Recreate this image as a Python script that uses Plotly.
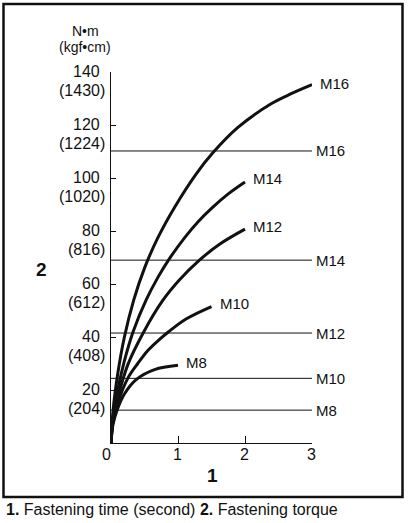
import plotly.graph_objects as go

# bolt curves: fastening time (s) vs torque (N·m)
m8_t = [0, 0.03, 0.1, 0.2, 0.38, 0.65, 1.0]
m8_n = [0, 7, 13, 18.5, 24, 27.7, 29.3]

m10_t = [0, 0.03, 0.1, 0.25, 0.4, 0.55, 0.72, 0.86, 1.12, 1.5]
m10_n = [0, 8, 15, 24.4, 30, 34.9, 39, 42, 46.8, 51.5]

m12_t = [0, 0.03, 0.1, 0.25, 0.49, 0.77, 1.02, 1.32, 1.62, 2.0]
m12_n = [0, 9, 17, 29.5, 42, 53.7, 61.5, 69, 75, 80.7]

m14_t = [0, 0.03, 0.1, 0.2, 0.33, 0.525, 0.7, 0.87, 1.1, 1.3, 1.52, 1.75, 2.0]
m14_n = [0, 10, 20, 31, 42, 54, 62.5, 69.5, 77.5, 83.5, 89, 94, 98.5]

m16_t = [0, 0.03, 0.1, 0.2, 0.34, 0.5, 0.7, 0.95, 1.27, 1.52, 1.89, 2.39, 2.69, 3.0]
m16_n = [0, 12, 26, 40, 54, 66, 77.5, 89, 101.5, 109.5, 119, 128, 131.8, 135.2]

curve_names = ["M8", "M10", "M12", "M14", "M16"]
curve_t = [m8_t, m10_t, m12_t, m14_t, m16_t]
curve_n = [m8_n, m10_n, m12_n, m14_n, m16_n]

# reference torque lines
ref_names = ["M16", "M14", "M12", "M10", "M8"]
ref_values = [110.2, 69, 41.5, 24.4, 12.4]

y_ticks = [20, 40, 60, 80, 100, 120, 140]
y_kgf = ["(204)", "(408)", "(612)", "(816)", "(1020)", "(1224)", "(1430)"]
x_ticks = [0, 1, 2, 3]

FONT = "Liberation Sans, Arial, sans-serif"

# plot area in pixels
L, T, W, H = 111, 72, 201, 371


def px(x):
    return (x - L) / W


def py(y):
    return (T + H - y) / H


fig = go.Figure()

for t, n in zip(curve_t, curve_n):
    fig.add_trace(go.Scatter(
        x=t, y=n, mode="lines",
        line=dict(color="#111111", width=3, shape="spline", smoothing=1),
        hoverinfo="skip", showlegend=False,
    ))

for v in ref_values:
    fig.add_trace(go.Scatter(
        x=[0, 3], y=[v, v], mode="lines",
        line=dict(color="#111111", width=1),
        hoverinfo="skip", showlegend=False,
    ))

ann = []
# labels at curve ends
for name, t, n in zip(curve_names, curve_t, curve_n):
    ann.append(dict(x=t[-1], y=n[-1], text=name, xanchor="left", yanchor="middle",
                    xshift=6, yshift=1 if name == "M16" else 3,
                    showarrow=False, font=dict(size=15)))
# labels of reference lines
for name, v in zip(ref_names, ref_values):
    ann.append(dict(x=3, y=v, text=name, xanchor="left", yanchor="middle",
                    xshift=2, showarrow=False, font=dict(size=15)))
# y tick labels (two lines)
for v, k in zip(y_ticks, y_kgf):
    ann.append(dict(x=0, y=v, text=str(v), xanchor="right", yanchor="middle",
                    xshift=-9, yshift=1, showarrow=False, font=dict(size=16)))
    ann.append(dict(x=0, y=v, text=k, xanchor="right", yanchor="middle",
                    xshift=-4, yshift=-18, showarrow=False, font=dict(size=16)))
# x tick labels
for v in x_ticks:
    ann.append(dict(x=v, y=0, text=str(v), xanchor="center", yanchor="middle",
                    xshift=-5 if v == 0 else -1, yshift=-11,
                    showarrow=False, font=dict(size=16)))

ann += [
    dict(xref="paper", yref="paper", x=px(85), y=py(31), text="N•m",
         xanchor="center", yanchor="middle", showarrow=False, font=dict(size=14)),
    dict(xref="paper", yref="paper", x=px(85), y=py(47), text="(kgf•cm)",
         xanchor="center", yanchor="middle", showarrow=False, font=dict(size=14)),
    dict(xref="paper", yref="paper", x=px(41), y=py(269), text="<b>2</b>",
         xanchor="center", yanchor="middle", showarrow=False, font=dict(size=19)),
    dict(xref="paper", yref="paper", x=px(212), y=py(476), text="<b>1</b>",
         xanchor="center", yanchor="middle", showarrow=False, font=dict(size=19)),
    dict(xref="paper", yref="paper", x=px(4), y=py(509), xanchor="left",
         yanchor="middle",
         text="<b>1.</b> Fastening time (second) <b>2.</b> Fastening torque",
         showarrow=False, font=dict(size=16)),
]

fig.update_layout(
    width=411, height=523,
    margin=dict(l=L, r=411 - L - W, t=T, b=523 - T - H, autoexpand=False),
    paper_bgcolor="white", plot_bgcolor="white",
    font=dict(family=FONT, color="#111111"),
    annotations=ann,
    shapes=[dict(type="rect", xref="paper", yref="paper",
                 x0=px(3.5), x1=px(402.5), y0=py(497), y1=py(4),
                 line=dict(color="#111111", width=2.5))],
)
fig.update_xaxes(range=[0, 3], showgrid=False, zeroline=False, showline=True,
                 linecolor="#111111", linewidth=1, ticks="inside", ticklen=7,
                 tickcolor="#111111", tickvals=[1, 2, 3], showticklabels=False)
fig.update_yaxes(range=[0, 140], showgrid=False, zeroline=False, showline=True,
                 linecolor="#111111", linewidth=1, ticks="inside", ticklen=5,
                 tickcolor="#111111", tickvals=y_ticks, showticklabels=False)

# page body has a default 8px margin; drop it so the figure sits at the corner
fig.write_html("out.html", config={"displayModeBar": False},
               post_script="document.body.style.margin='0';document.body.style.overflow='hidden';")
